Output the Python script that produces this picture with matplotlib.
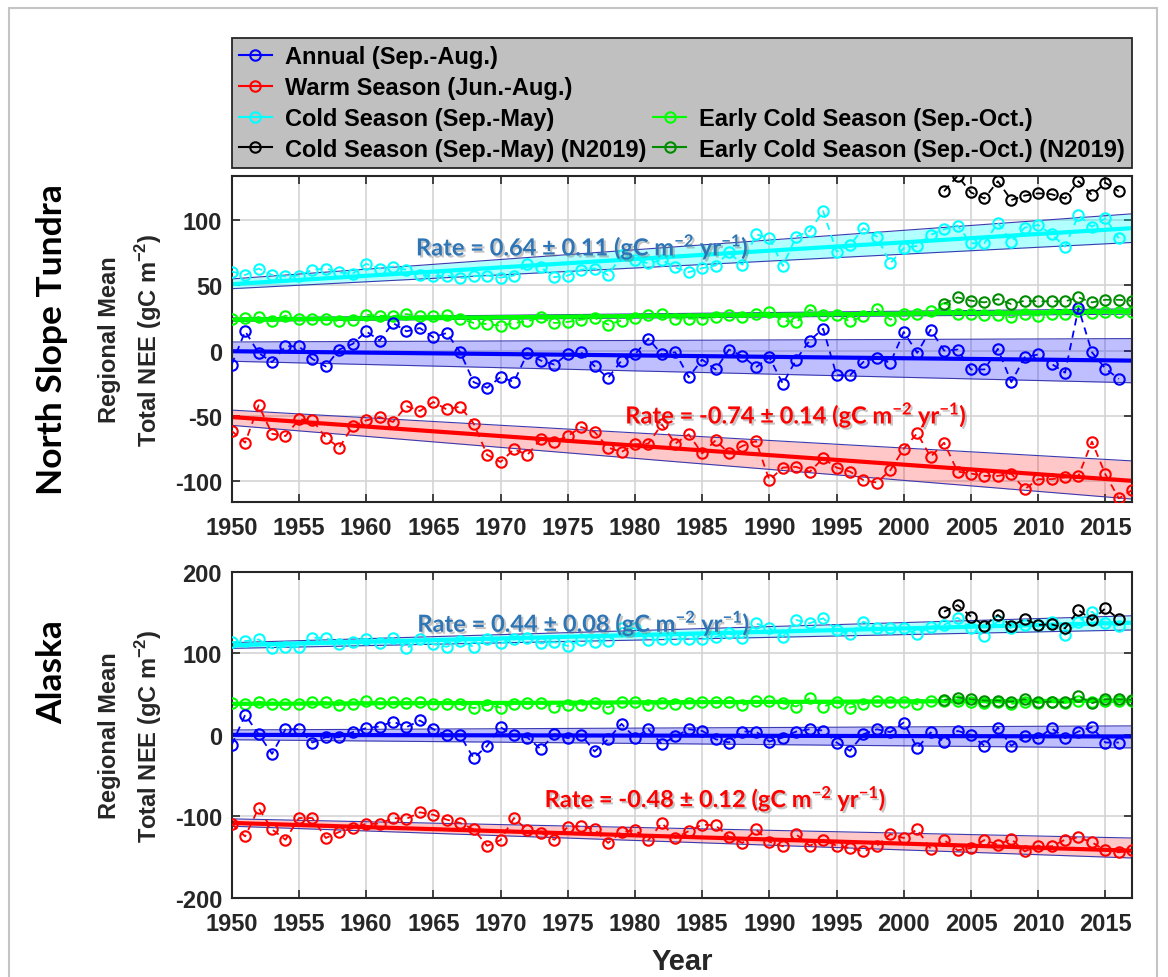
import numpy as np
import matplotlib
matplotlib.use('Agg')
import matplotlib.pyplot as plt
import matplotlib.patheffects as pe
from matplotlib.lines import Line2D
from matplotlib.patches import Rectangle

plt.rcParams['font.family'] = ['Liberation Sans', 'DejaVu Sans']
plt.rcParams['font.weight'] = 'bold'
plt.rcParams['axes.labelweight'] = 'bold'
plt.rcParams['axes.unicode_minus'] = False

# years for each kind of series
years_long = np.arange(1950, 2018)    # warm season, early cold season
years_short = np.arange(1950, 2017)   # annual, cold season
years_n19 = np.arange(2003, 2017)     # cold season (N2019)
years_n19_early = np.arange(2003, 2018)  # early cold season (N2019)

# ---- North Slope Tundra ----
nst_annual = [-10.7, 14.8, -1.8, -8.9, 3.3, 3.3, -6.4, -12.2, 0.8, 5.1,
              14.8, 7.7, 21.2, 14.8, 17.3, 10.2, 13.5, -1.3, -24.2, -28.6,
              -20.4, -24, -2, -7.7, -10.7, -2.6, -1.3, -12, -21, -7.7,
              -3, 9.2, -3, -1.3, -20.4, -6.9, -14.5, 0.8, -4.3, -12.8,
              -5.1, -25.5, -6.9, 7.7, 16.8, -18.9, -18.9, -8.7, -5.6, -9.4,
              14.3, -1.8, 16, 0, 0.8, -14.5, -14.5, 1.3, -24.2, -5.1,
              -3, -10.2, -17, 32.6, -1.3, -13.8, -21.7]
nst_warm = [-61.7, -70.7, -42, -63.8, -65.6, -52.8, -53.3, -66.8, -74.5, -58,
            -53.6, -51, -54.8, -42.6, -46.4, -39.5, -45.2, -43, -56, -80,
            -85.5, -75.8, -80, -68, -70, -65.6, -58.7, -62.5, -74.5, -77.8,
            -72, -71.4, -56.6, -71.4, -64.3, -79, -68.9, -79, -73.2, -69.4,
            -99.5, -89.8, -89.3, -93.1, -82.7, -89.8, -92.9, -99.5, -101.3, -91.8,
            -75.3, -63.5, -81.6, -70.7, -92.9, -94.4, -96.2, -96.2, -94.4, -106.4,
            -98.7, -98.7, -97.4, -96.2, -69.9, -94.9, -113.5, -107]
nst_cold = [60.7, 58, 63, 58, 57, 57.6, 62, 63, 60, 59,
            66.6, 63, 64.5, 62, 58, 57, 57.6, 55.6, 57, 57.6,
            56, 57.6, 66.6, 63.8, 56.4, 57.6, 62, 63, 58, 73,
            69.6, 67, 69.6, 63.8, 60.2, 63.3, 65.3, 75.5, 65.8, 89.3,
            86.2, 65, 87.5, 91.8, 107, 76, 81, 93.9, 87.5, 67,
            78.6, 80.4, 88.8, 93, 96, 82.4, 82.4, 98.2, 83.7, 94.4,
            96.4, 89.3, 79.8, 104, 95, 101.5, 86.2]
nst_early = [24.2, 25, 25.8, 22.4, 26.8, 24.2, 24.5, 24.5, 22.4, 23.5,
             27.5, 26.8, 26.5, 28, 26.3, 26.3, 27, 24.5, 21.2, 20.4,
             19.1, 21.2, 22.4, 25.5, 21.2, 22, 23.7, 25, 20, 23,
             25, 27, 28.3, 24.5, 24.5, 24.5, 25.5, 27.6, 25.5, 28.3,
             29.3, 23, 21.7, 31.4, 27, 27.6, 22.4, 26.3, 31.9, 23.7,
             28.3, 28.3, 30, 32.6, 28.3, 28.3, 27.6, 27.6, 25.5, 28.3,
             26.8, 28.3, 28.3, 30.6, 28.8, 29.6, 29.6, 29.6]
nst_cold_n19 = [122.4, 134, 121.4, 116.8, 130, 115.6, 119, 120.7, 120, 116.8,
                130, 119.4, 128.8, 122.4]
nst_early_n19 = [36, 40.8, 38.3, 37, 39.5, 35.7, 38.3, 37.8, 37.8, 37.8,
                 40.8, 37, 39, 39, 38.3]

# ---- Alaska ----
ak_annual = [-12.2, 24.5, 0.8, -23.3, 6.9, 6.9, -9.4, -2.9, -2.9, 3.3,
             8.2, 10.2, 16.3, 9.4, 17.6, 6.9, -0.8, -0.8, -28.6, -13.5,
             9.4, -0.8, -3.3, -17.6, 0.8, -4.1, 0, -20.4, -5.3, 13.5,
             -3.3, 6.9, -11.4, -2, 6.9, 4.9, -5.3, -9.4, 4.1, 4.1,
             -8.2, -3.3, 4.1, 6.9, 5.3, -9.4, -19.6, 0.8, 6.9, 3.3,
             15.1, -16.3, 2.9, -8.2, 4.9, 0, -13.5, 9, -13.5, -2,
             -4.1, 8.2, -4.1, 4.1, 9.4, -9.4, -9.4]
ak_warm = [-109.4, -124.5, -89.8, -116, -128.6, -102, -102, -126.5, -119, -114.3,
           -109, -109, -102, -102.9, -95, -98, -104, -108, -116, -136,
           -129, -102, -117, -120, -128.6, -113, -112, -116, -132.6, -119,
           -117, -129, -108, -126.5, -118, -110, -111, -125, -132.6, -116,
           -131, -136.7, -122, -136, -128.6, -136, -138.8, -142.9, -136, -121.6,
           -126.5, -116, -139.6, -129, -141.6, -138.8, -129, -134.7, -127.8, -142.9,
           -136, -136.7, -128.6, -125.7, -131.8, -141.6, -144, -141.6]
ak_cold = [113.5, 115, 117, 106, 108, 108, 119, 119, 111, 114,
           118, 113, 119, 106, 117, 111, 108, 115, 108, 117,
           112, 117, 119, 112, 113.5, 109, 116, 113.5, 115, 131,
           130.6, 116, 117, 117, 117.6, 117, 120, 124.5, 118.4, 136.7,
           130.6, 120, 140.8, 136.7, 142.9, 128.6, 123.3, 138.8, 130.6, 130.6,
           130.6, 123.3, 132.7, 134.7, 143.7, 130.6, 121.6, 139.6, 130.6, 134.7,
           134.7, 138, 122.4, 138.8, 151, 136.7, 133.9]
ak_early = [38.8, 37.6, 40.8, 38, 37.6, 38, 40.8, 40, 36, 37.6,
            41.6, 38.8, 40, 39.6, 40, 38, 38, 37.6, 32.7, 36.7,
            33.5, 38, 38.8, 38.8, 34.7, 36.7, 36.7, 38.8, 33.5, 40.8,
            40, 36.7, 38.8, 37.6, 38.8, 40.8, 40.8, 40.8, 36.7, 41.6,
            41.6, 38.8, 34.7, 44.9, 34.7, 40, 33.5, 37.6, 42, 40,
            40.8, 37.6, 41.6, 41, 42, 40, 39, 40, 38, 40,
            39, 40, 39, 42, 40, 41, 41, 41]
ak_cold_n19 = [151, 159, 145, 134, 147, 133.5, 142, 134.7, 135.5, 130.6,
               153, 140.8, 155, 142]
ak_early_n19 = [42.9, 45.7, 43.7, 42, 42, 40.8, 43.7, 40, 40.8, 40,
                47.8, 38.8, 43.7, 43.7, 42.9]

# trend lines read at 1950 and 2017: [centre], [lower edge], [upper edge]
trend_years = [1950, 2017]
nst_trend_cold = [[51, 94], [47.5, 83], [55, 105]]
nst_trend_early = [[23.7, 30], [22.5, 28], [25, 32]]
nst_trend_annual = [[-0.5, -7.7], [-8.2, -24.7], [6.6, 9.2]]
nst_trend_warm = [[-51, -100], [-57.4, -114], [-45.7, -84.7]]
ak_trend_cold = [[110, 137.5], [106, 128.6], [113, 146]]
ak_trend_early = [[38, 42], [37, 40.5], [39, 43.5]]
ak_trend_annual = [[0, -2], [-6, -16], [6, 11]]
ak_trend_warm = [[-108, -142], [-112, -151], [-103, -126.5]]

c_annual = (0, 0, 1)
c_warm = (1, 0, 0)
c_cold = (0, 1, 1)
c_early = (0, 1, 0)
c_cold_n19 = (0, 0, 0)
c_early_n19 = (0, 0.55, 0)
rate_blue = '#2E75B6'


def draw_trend(ax, trend, color, fill_color, fill_alpha):
    mid, lo, hi = trend
    ax.fill_between(trend_years, lo, hi, color=fill_color, alpha=fill_alpha, lw=0, zorder=1)
    ax.plot(trend_years, lo, color='#3a3ab0', lw=0.8, zorder=1.5)
    ax.plot(trend_years, hi, color='#3a3ab0', lw=0.8, zorder=1.5)
    ax.plot(trend_years, mid, color=color, lw=3, zorder=2)


def draw_series(ax, x, y, color):
    ax.plot(x, y, color=color, ls=(0, (4, 3)), lw=1.3, marker='o', ms=7.5,
            mfc='none', mec=color, mew=1.5, zorder=3)


def draw_panel(ax, annual, warm, cold, early, cold_n19, early_n19,
               t_cold, t_early, t_annual, t_warm):
    draw_trend(ax, t_cold, c_cold, c_cold, 0.3)
    draw_trend(ax, t_early, c_early, c_early, 0.2)
    draw_trend(ax, t_annual, c_annual, c_annual, 0.25)
    draw_trend(ax, t_warm, c_warm, c_warm, 0.22)
    draw_series(ax, years_short, cold, c_cold)
    draw_series(ax, years_long, early, c_early)
    draw_series(ax, years_short, annual, c_annual)
    draw_series(ax, years_long, warm, c_warm)
    draw_series(ax, years_n19, cold_n19, c_cold_n19)
    draw_series(ax, years_n19_early, early_n19, c_early_n19)

    ax.set_xlim(1950, 2017)
    ax.set_xticks(np.arange(1950, 2016, 5))
    ax.grid(True, color='#d4d4d4', lw=1.2)
    ax.set_axisbelow(True)
    ax.tick_params(direction='in', top=True, right=True, length=6, width=1.2,
                   labelsize=17, colors='#262626', pad=7)
    ax.tick_params(axis='x', pad=10)
    for s in ax.spines.values():
        s.set_linewidth(1.5)
        s.set_color('#262626')
    ax.set_ylabel('Regional Mean\nTotal NEE (gC m$^{\\mathregular{-2}}$)', fontsize=17,
                  family=['Liberation Sans Narrow', 'Liberation Sans'], color='#262626',
                  linespacing=1.5)
    ax.yaxis.set_label_coords(-0.075, 0.5)


def rate_text(ax, x, y, s, color):
    ax.text(x, y, s, ha='center', va='center', color=color, fontsize=17,
            family='Lato', weight='bold', zorder=5,
            path_effects=[pe.withSimplePatchShadow(offset=(1.5, -1.5),
                                                   shadow_rgbFace='#7f7f7f', alpha=0.45)])


fig = plt.figure(figsize=(11.68, 9.78), dpi=100)
ax1 = fig.add_axes([0.1984, 0.486, 0.771, 0.333])
ax2 = fig.add_axes([0.1984, 0.0808, 0.771, 0.3336])

draw_panel(ax1, nst_annual, nst_warm, nst_cold, nst_early, nst_cold_n19, nst_early_n19,
           nst_trend_cold, nst_trend_early, nst_trend_annual, nst_trend_warm)
ax1.set_ylim(-116, 134)
ax1.set_yticks([-100, -50, 0, 50, 100])

draw_panel(ax2, ak_annual, ak_warm, ak_cold, ak_early, ak_cold_n19, ak_early_n19,
           ak_trend_cold, ak_trend_early, ak_trend_annual, ak_trend_warm)
ax2.set_ylim(-200, 200)
ax2.set_yticks([-200, -100, 0, 100, 200])
ax2.set_xlabel('Year', fontsize=21, color='#262626', labelpad=9)

rate_text(ax1, 1976.1, 80, 'Rate = 0.64 ± 0.11 (gC m$^{\\mathregular{-2}}$ yr$^{\\mathregular{-1}}$)', rate_blue)
rate_text(ax1, 1992.0, -49, 'Rate = -0.74 ± 0.14 (gC m$^{\\mathregular{-2}}$ yr$^{\\mathregular{-1}}$)', 'red')
rate_text(ax2, 1976.2, 137.5, 'Rate = 0.44 ± 0.08 (gC m$^{\\mathregular{-2}}$ yr$^{\\mathregular{-1}}$)', rate_blue)
rate_text(ax2, 1986.0, -77.5, 'Rate = -0.48 ± 0.12 (gC m$^{\\mathregular{-2}}$ yr$^{\\mathregular{-1}}$)', 'red')

fig.text(52 / 1168, 1 - 340 / 978, 'North Slope Tundra', rotation=90, ha='center', va='center',
         fontsize=25.5, family='Lato', weight='bold')
fig.text(52 / 1168, 1 - 672 / 978, 'Alaska', rotation=90, ha='center', va='center',
         fontsize=25.5, family='Lato', weight='bold')

# legend: two columns, second column only has the early cold season entries
def leg_handle(color):
    return Line2D([], [], color=color, lw=1.5, marker='o', ms=7.5, mfc='none', mew=1.5)

blank = Line2D([], [], ls='none')
handles = [leg_handle(c_annual), leg_handle(c_warm), leg_handle(c_cold), leg_handle(c_cold_n19),
           blank, blank, leg_handle(c_early), leg_handle(c_early_n19)]
labels = ['Annual (Sep.-Aug.)', 'Warm Season (Jun.-Aug.)', 'Cold Season (Sep.-May)',
          'Cold Season (Sep.-May) (N2019)', '', '',
          'Early Cold Season (Sep.-Oct.)', 'Early Cold Season (Sep.-Oct.) (N2019)']
leg = fig.legend(handles, labels, ncol=2, loc='upper left', mode='expand',
                 bbox_to_anchor=(0.1984, 0.834, 0.771, 0.126), fontsize=17,
                 handlelength=1.4, handletextpad=0.55, columnspacing=0.1,
                 labelspacing=0.33, borderpad=0.3, borderaxespad=0,
                 fancybox=False, framealpha=1, facecolor='#c0c0c0', edgecolor='#262626')
leg.get_frame().set_linewidth(1.3)

# thin grey frame around the whole figure
fig.patches.append(Rectangle((9 / 1168, -0.05), 1148 / 1168, 1.05 - 9 / 978,
                             transform=fig.transFigure, fill=False, edgecolor='#c4c4c4', lw=1.5))

fig.savefig('out.png', dpi=100)
